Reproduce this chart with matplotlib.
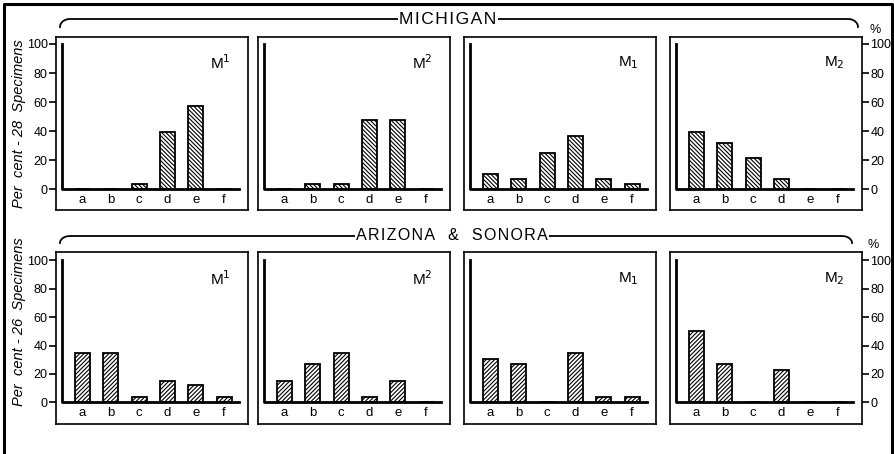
import matplotlib
matplotlib.use("Agg")
import matplotlib.pyplot as plt
import numpy as np

plt.rcParams["font.family"] = ["Liberation Sans", "DejaVu Sans"]
plt.rcParams["hatch.linewidth"] = 0.8

W, H = 895, 454

####### data (per cent of specimens) #######
letters = ["a", "b", "c", "d", "e", "f"]
yticks = [0, 20, 40, 60, 80, 100]

# Michigan, 28 specimens
mich_M1_up = [0, 0, 3.6, 39.3, 57.1, 0]
mich_M2_up = [0, 3.6, 3.6, 47.5, 47.5, 0]
mich_M1_low = [10.7, 7.1, 25.0, 37.0, 7.1, 3.6]
mich_M2_low = [39.3, 32.1, 21.4, 7.1, 0, 0]

# Arizona & Sonora, 26 specimens
ariz_M1_up = [34.6, 34.6, 3.8, 15.4, 12.0, 3.8]
ariz_M2_up = [15.4, 26.9, 34.6, 3.8, 15.4, 0]
ariz_M1_low = [30.8, 26.9, 0, 34.6, 3.8, 3.8]
ariz_M2_low = [50.0, 26.9, 0, 23.1, 0, 0]

panel_labels = [r"M$^1$", r"M$^2$", r"M$_1$", r"M$_2$"]

fig = plt.figure(figsize=(W / 100, H / 100), dpi=100)

# background axes in pixel coordinates for frame / brackets
bg = fig.add_axes([0, 0, 1, 1])
bg.set_xlim(0, W)
bg.set_ylim(H, 0)
bg.axis("off")
bg.plot([4.5, 4.5, 892, 892], [H + 5, 4, 4, H + 5], color="black", lw=2.2)


def bracket(y, x0, x1, drop, text, xc, fs):
    t = np.linspace(0, np.pi / 2, 20)
    r = 10
    xs_l = x0 + r - r * np.cos(t)
    ys_l = y + drop - drop * np.sin(t)
    xs_r = x1 - r + r * np.cos(t)
    ys_r = y + drop - drop * np.sin(t)
    xs = np.concatenate([xs_l, xs_r[::-1]])
    ys = np.concatenate([ys_l, ys_r[::-1]])
    bg.plot(xs, ys, color="black", lw=1.3)
    bg.text(xc, y, text, ha="center", va="center", fontsize=fs,
            bbox=dict(fc="white", ec="none", pad=1.0))


bracket(19, 60, 858, 8, "M I C H I G A N".replace(" ", "\u200a"), 448, 12.5)
bracket(236, 60, 852, 7, "ARIZONA  &  SONORA".replace("", "\u200a")[1:-1], 452, 11.5)


def panel(l, t, r, b, vals, ylim, hatch, label, side, ylab_y):
    ax = fig.add_axes([l / W, 1 - b / H, (r - l) / W, (b - t) / H])
    x = np.arange(len(letters))
    ax.bar(x, vals, width=0.53, color="white", edgecolor="black",
           hatch=hatch, lw=1.3, zorder=3)
    ax.plot([-0.73, -0.73, 5.52], [100, 0, 0], color="black", lw=2, zorder=4)
    ax.set_xlim(-0.93, 5.84)
    ax.set_ylim(*ylim)
    ax.set_xticks([])
    for sp in ax.spines.values():
        sp.set_linewidth(1.2)
    for xi, s in zip(x, letters):
        ax.text(xi, ylab_y, s, ha="center", va="center", fontsize=9.5)
    ax.text(4.85, 87, label, ha="center", va="center", fontsize=11)
    ax.set_yticks(yticks)
    ax.tick_params(axis="y", direction="out", length=5, width=1.2,
                   labelsize=9, pad=1)
    if side == "left":
        ax.yaxis.tick_left()
    elif side == "right":
        ax.yaxis.tick_right()
    else:
        ax.set_yticks([])
    return ax


lefts = [56, 258, 464, 670]
top_vals = [mich_M1_up, mich_M2_up, mich_M1_low, mich_M2_low]
bot_vals = [ariz_M1_up, ariz_M2_up, ariz_M1_low, ariz_M2_low]
sides = ["left", None, None, "right"]

for i in range(4):
    panel(lefts[i], 37, lefts[i] + 192, 210, top_vals[i], (-14.2, 104.8),
          "\\" * 8, panel_labels[i], sides[i], -7.4)
    panel(lefts[i], 252, lefts[i] + 192, 424, bot_vals[i], (-15.2, 105.8),
          "/" * 8, panel_labels[i], sides[i], -7.5)

# axis titles
bg.text(19, 124, "Per  cent - 28  Specimens", rotation=90, ha="center",
        va="center", fontsize=10.5, style="italic")
bg.text(19, 322, "Per  cent - 26  Specimens", rotation=90, ha="center",
        va="center", fontsize=10.5, style="italic")
bg.text(875, 30, "%", ha="center", va="center", fontsize=9)
bg.text(873, 245, "%", ha="center", va="center", fontsize=9)

fig.savefig("out.png", dpi=100)
